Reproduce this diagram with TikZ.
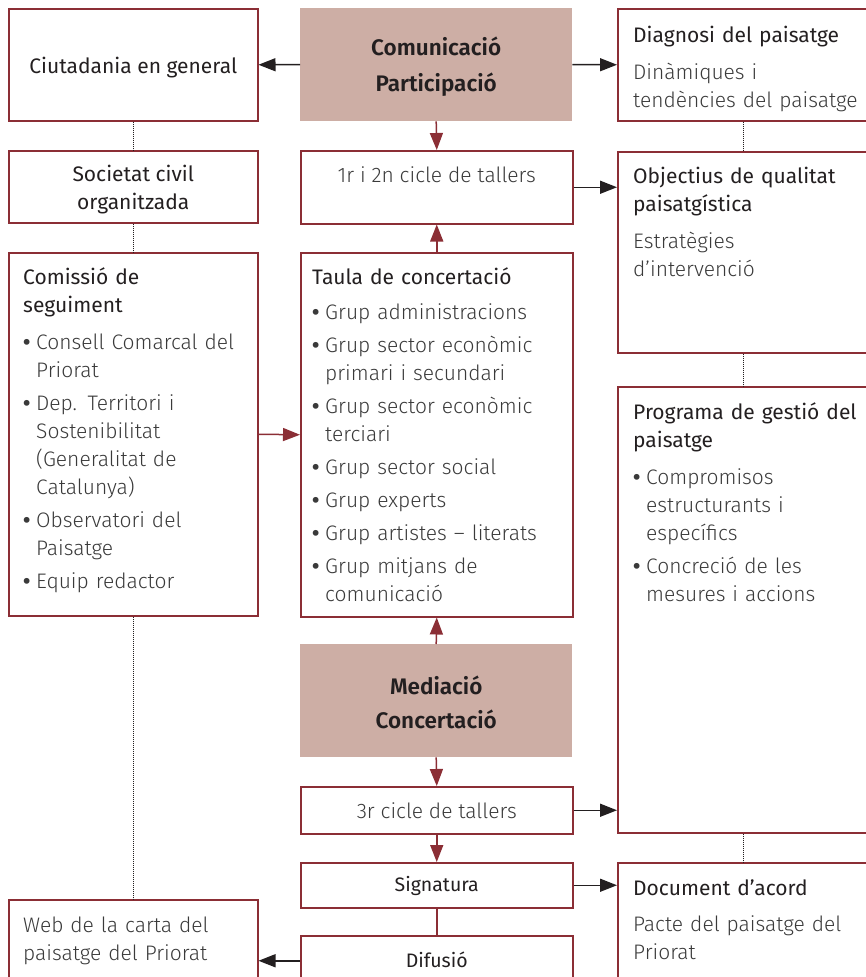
\documentclass[tikz,border=0pt]{standalone}
\usepackage{fontspec}
\setmainfont{Fira Sans}
\newfontfamily\litefont{Fira Sans Light}
\newfontfamily\semifont{Fira Sans SemiBold}
\usetikzlibrary{positioning,arrows.meta}

\definecolor{brick}{HTML}{8B2E35}
\definecolor{rosy}{HTML}{CDAEA5}
\definecolor{ink}{HTML}{231F20}
\definecolor{soft}{HTML}{3A3A3A}

\newcommand{\dotitem}{\makebox[13pt][l]{\normalfont\bfseries\textbullet}}
\newcommand{\dotpad}{\hspace*{13pt}}

\tikzset{
  frame/.style={draw=brick, line width=1.5pt, anchor=north west, inner sep=0pt},
  shade/.style={fill=rosy, anchor=north west, inner sep=0pt},
  head/.style={inner sep=0pt, text=ink, font=\fontsize{21}{28}\selectfont},
  lite/.style={inner sep=0pt, text=soft, font=\litefont\fontsize{21}{28}\selectfont},
  bold/.style={inner sep=0pt, text=ink, align=center, font=\semifont\fontsize{22.5}{28}\selectfont},
  block/.style={anchor=north west, text width=300pt, align=left},
  link/.style={draw=ink, line width=1.5pt, -{Triangle[length=17pt,width=13pt]}},
  flow/.style={draw=brick, line width=1.5pt, -{Triangle[length=17pt,width=13pt]}},
  dots/.style={draw=ink, line width=1.4pt, dash pattern=on 1pt off 1pt},
}

\begin{document}
\begin{tikzpicture}[x=1pt,y=-1pt]
    \useasboundingbox (0,0) rectangle (865,977);

    % left column
    \node[frame, minimum width=249pt, minimum height=112pt] (ciut) at (8,8) {};
    \node[frame, minimum width=249pt, minimum height=72pt] (soc) at (8,150) {};
    \node[frame, minimum width=249pt, minimum height=363pt] (comis) at (8,252) {};
    \node[frame, minimum width=249pt, minimum height=110pt] (web) at (8,899) {};

    % middle column
    \node[shade, minimum width=272pt, minimum height=113pt] (comm) at (300,8) {};
    \node[frame, minimum width=272pt, minimum height=73pt] (tall12) at (300,150) {};
    \node[frame, minimum width=272pt, minimum height=364pt] (taula) at (300,252) {};
    \node[shade, minimum width=272pt, minimum height=113pt] (med) at (300,644) {};
    \node[frame, minimum width=272pt, minimum height=47pt] (tall3) at (300,786) {};
    \node[frame, minimum width=272pt, minimum height=45pt] (sign) at (300,862) {};
    \node[frame, minimum width=272pt, minimum height=50pt] (dif) at (300,935) {};

    % right column
    \node[frame, minimum width=252pt, minimum height=112pt] (diag) at (617,8) {};
    \node[frame, minimum width=252pt, minimum height=201pt] (obj) at (617,151) {};
    \node[frame, minimum width=252pt, minimum height=446pt] (prog) at (617,386) {};
    \node[frame, minimum width=252pt, minimum height=130pt] (doc) at (617,862) {};

    % texts
    \node[head] (ciuttx) at ([yshift=-3pt]ciut.center) {Ciutadania en general};
    \node[head, align=center] (soctx) at ([yshift=-3pt]soc.center) {Societat civil\\organitzada};
    \node[head, block] (comistx) at ([shift={(15,15)}]comis.north west) {Comissió de\\seguiment\\[9pt]
        \litefont\color{soft}\dotitem Consell Comarcal del\\\dotpad Priorat\\[5pt]
        \dotitem Dep. Territori i\\\dotpad Sostenibilitat\\\dotpad (Generalitat de\\\dotpad Catalunya)\\[5pt]
        \dotitem Observatori del\\\dotpad Paisatge\\[5pt]
        \dotitem Equip redactor};
    \node[lite, block] (webtx) at ([shift={(15,18)}]web.north west) {Web de la carta del\\paisatge del Priorat};

    \node[bold] (commtx) at ([yshift=-2pt]comm.center) {Comunicació\\[8pt]Participació};
    \node[lite, anchor=north] (tall12tx) at ([yshift=-16pt]tall12.north) {1r i 2n cicle de tallers};
    \node[head, block] (taulatx) at ([shift={(12,15)}]taula.north west) {Taula de concertació\\[7pt]
        \litefont\color{soft}\dotitem Grup administracions\\[5pt]
        \dotitem Grup sector econòmic\\\dotpad primari i secundari\\[5pt]
        \dotitem Grup sector econòmic\\\dotpad terciari\\[5pt]
        \dotitem Grup sector social\\[5pt]
        \dotitem Grup experts\\[5pt]
        \dotitem Grup artistes – literats\\[5pt]
        \dotitem Grup mitjans de\\\dotpad comunicació};
    \node[bold] (medtx) at ([yshift=-2pt]med.center) {Mediació\\[6pt]Concertació};
    \node[lite] (tall3tx) at (tall3.center) {3r cicle de tallers};
    \node[head, font=\fontsize{19.5}{24}\selectfont] (signtx) at ([yshift=-1pt]sign.center) {Signatura};
    \node[head, font=\fontsize{19.5}{24}\selectfont] (diftx) at ([yshift=1pt]dif.center) {Difusió};

    \node[head, block] (diagtx) at ([shift={(16,18)}]diag.north west) {Diagnosi del paisatge\\[9pt]
        \litefont\color{soft}Dinàmiques i\\tendències del paisatge};
    \node[head, block] (objtx) at ([shift={(16,16)}]obj.north west) {Objectius de qualitat\\paisatgística\\[9pt]
        \litefont\color{soft}Estratègies\\d’intervenció};
    \node[head, block] (progtx) at ([shift={(16,16)}]prog.north west) {Programa de gestió del\\paisatge\\[9pt]
        \litefont\color{soft}\dotitem Compromisos\\\dotpad estructurants i\\\dotpad específics\\[5pt]
        \dotitem Concreció de les\\\dotpad mesures i accions};
    \node[head, block] (doctx) at ([shift={(16,17)}]doc.north west) {Document d’acord\\[8pt]
        \litefont\color{soft}Pacte del paisatge del\\Priorat};

    % connectors
    \draw[link] (comm.west) -- (ciut.east);
    \draw[link] (comm.east) -- (diag.west);
    \draw[flow] (comm.south) -- (tall12.north);
    \draw[flow] (taula.north) -- (tall12.south);
    \draw[flow] (comis.east) -- (taula.west);
    \draw[link] (tall12.east) -- (tall12.east -| obj.west);
    \draw[flow] (med.north) -- (taula.south);
    \draw[flow] (med.south) -- (tall3.north);
    \draw[link] (tall3.east) -- (tall3.east -| prog.west);
    \draw[flow] (tall3.south) -- (sign.north);
    \draw[link] (sign.east) -- (sign.east -| doc.west);
    \draw[brick, line width=1.5pt] (sign.south) -- (dif.north);
    \draw[link] (dif.west) -- (dif.west -| web.east);

    % dotted links
    \draw[dots] (ciut.south) -- (soc.north);
    \draw[dots] (soc.south) -- (comis.north);
    \draw[dots] (comis.south) -- (web.north);
    \draw[dots] (diag.south) -- (obj.north);
    \draw[dots] (obj.south) -- (prog.north);
    \draw[dots] (prog.south) -- (doc.north);
\end{tikzpicture}
\end{document}
